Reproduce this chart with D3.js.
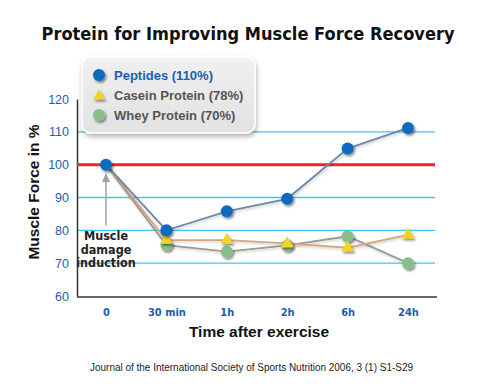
<!DOCTYPE html>
<html><head><meta charset="utf-8">
<script src="https://cdn.jsdelivr.net/npm/d3@7"></script>
<style>body{margin:0;background:#fff}</style>
</head><body>
<script>
const categories = ["0","30 min","1h","2h","6h","24h"];
const peptides = [100, 80, 85.8, 89.6, 104.9, 111.2];
const casein = [100, 77, 77, 76, 74.7, 78.6];
const whey = [100, 75.5, 73.5, 75.4, 78.2, 70];
const yTicks = [60,70,80,90,100,110,120];
const seriesNames = ["Peptides (110%)","Casein Protein (78%)","Whey Protein (70%)"];

const W=488,H=387;
const svg=d3.select("body").append("svg").attr("width",W).attr("height",H);
const defs=svg.append("defs");
const f=defs.append("filter").attr("id","sh").attr("x","-50%").attr("y","-50%").attr("width","200%").attr("height","200%");
f.append("feDropShadow").attr("dx",1.5).attr("dy",2).attr("stdDeviation",1.2).attr("flood-color","#000").attr("flood-opacity",0.45);
const f3=defs.append("filter").attr("id","lnsh").attr("x","-10%").attr("y","-10%").attr("width","120%").attr("height","120%");
f3.append("feDropShadow").attr("dx",1).attr("dy",1.5).attr("stdDeviation",0.8).attr("flood-color","#000").attr("flood-opacity",0.2);
const f2=defs.append("filter").attr("id","lsh").attr("x","-20%").attr("y","-20%").attr("width","140%").attr("height","150%");
f2.append("feDropShadow").attr("dx",1).attr("dy",3).attr("stdDeviation",2.5).attr("flood-color","#000").attr("flood-opacity",0.3);
const lg=defs.append("linearGradient").attr("id","lg").attr("x1",0).attr("y1",0).attr("x2",0).attr("y2",1);
lg.append("stop").attr("offset","0").attr("stop-color","#f0f0f0");
lg.append("stop").attr("offset","1").attr("stop-color","#e2e2e2");

const x=d3.scalePoint().domain(categories).range([106,408]);
const y=d3.scaleLinear().domain([60,120]).range([296,99]);
const x0=77,x1=437;

svg.append("text").attr("x",248).attr("y",40).attr("text-anchor","middle")
 .attr("font-family","DejaVu Sans").attr("font-weight","bold").attr("font-size",17)
 .attr("textLength",413).attr("lengthAdjust","spacingAndGlyphs").attr("fill","#111")
 .text("Protein for Improving Muscle Force Recovery");

// gridlines
svg.append("g").selectAll("line").data(yTicks.filter(t=>t>60&&t<120&&t!==100)).join("line")
 .attr("x1",x0).attr("x2",x1-2).attr("y1",d=>y(d)).attr("y2",d=>y(d))
 .attr("stroke","#3cc8ec").attr("stroke-width",1.3);

// y axis
const ya=svg.append("g").attr("transform",`translate(${x0},0)`).call(d3.axisLeft(y).tickValues(yTicks).tickSize(0).tickPadding(8));
ya.select(".domain").attr("stroke","#333").attr("stroke-width",1.5);
ya.selectAll("text").attr("font-family","Liberation Sans, Arial").attr("font-size",12.5).attr("fill","#1a5fae");
// x axis
const xa=svg.append("g").attr("transform",`translate(0,${y(60)+1})`).call(d3.axisBottom(x).tickSize(0).tickPadding(11));
xa.select(".domain").attr("d",`M${x0},0H${x1}`).attr("stroke","#333").attr("stroke-width",1.5);
xa.selectAll("text").attr("font-family","DejaVu Sans Condensed, DejaVu Sans").attr("font-weight","bold").attr("font-size",11).attr("fill","#1a5fae");

// red 100 line
svg.append("line").attr("x1",x0).attr("x2",x1-2).attr("y1",y(100)).attr("y2",y(100)).attr("stroke","#ee2233").attr("stroke-width",3);

svg.append("text").attr("transform",`translate(39,${192}) rotate(-90)`).attr("text-anchor","middle")
 .attr("font-family","Liberation Sans, Arial").attr("font-weight","bold").attr("font-size",15.5).attr("fill","#111").text("Muscle Force in %");
svg.append("text").attr("x",259).attr("y",337).attr("text-anchor","middle")
 .attr("font-family","Liberation Sans, Arial").attr("font-weight","bold").attr("font-size",15.5).attr("fill","#111").text("Time after exercise");
svg.append("text").attr("x",90).attr("y",371)
 .attr("font-family","Liberation Sans, Arial").attr("font-size",10.5).attr("fill","#222")
 .attr("textLength",323).attr("lengthAdjust","spacingAndGlyphs")
 .text("Journal of the International Society of Sports Nutrition 2006, 3 (1) S1-S29");

// annotation
const ann=svg.append("g");
ann.append("line").attr("x1",x("0")).attr("x2",x("0")).attr("y1",y(97)).attr("y2",y(81.5)).attr("stroke","#a8a0a8").attr("stroke-width",1.5);
ann.append("path").attr("d",`M${x("0")},${y(97.5)} l-4,9 l8,0 z`).attr("fill","#a8a0a8");
["Muscle","damage","induction"].forEach((t,i)=>{
 ann.append("text").attr("x",x("0")).attr("y",240+i*13.5).attr("text-anchor","middle")
  .attr("font-family","DejaVu Sans Condensed, DejaVu Sans").attr("font-weight","bold").attr("font-size",12.5)
  .attr("fill","#222").text(t);
});

const line=d3.line().x((d,i)=>x(categories[i])).y(d=>y(d));
const series=[
 {v:whey,lc:"#9a9a96",mc:"#88c08a",shape:"circle"},
 {v:casein,lc:"#d6a47e",mc:"#f4d424",shape:"tri"},
 {v:peptides,lc:"#6c88a8",mc:"#0a6ac0",shape:"circle"}
];
series.forEach(s=>{
 svg.append("path").attr("d",line(s.v)).attr("fill","none").attr("stroke",s.lc).attr("stroke-width",1.8).attr("filter","url(#lnsh)");
});
series.forEach(s=>{
 const g=svg.append("g").attr("filter","url(#sh)");
 s.v.forEach((v,i)=>{
  if(i===0 && s!==series[2]) return;
  if(s.shape==="circle") g.append("circle").attr("cx",x(categories[i])).attr("cy",y(v)).attr("r",6).attr("fill",s.mc);
  else g.append("path").attr("d",d3.symbol(d3.symbolTriangle,70)()).attr("transform",`translate(${x(categories[i])},${y(v)})`).attr("fill",s.mc);
 });
});

// legend
const L=svg.append("g");
L.append("rect").attr("x",82).attr("y",57).attr("width",173).attr("height",76).attr("rx",9)
 .attr("fill","url(#lg)").attr("stroke","#fff").attr("stroke-width",1.5).attr("filter","url(#lsh)");
const li=[{c:"#0a6ac0",s:"circle",tc:"#1a5fae"},{c:"#f4d424",s:"tri",tc:"#555"},{c:"#88c08a",s:"circle",tc:"#555"}];
li.forEach((d,i)=>{
 const cy=75+i*20;
 const g=L.append("g").attr("filter","url(#sh)");
 if(d.s==="circle") g.append("circle").attr("cx",99).attr("cy",cy).attr("r",6).attr("fill",d.c);
 else g.append("path").attr("d",d3.symbol(d3.symbolTriangle,60)()).attr("transform",`translate(99,${cy+1})`).attr("fill",d.c);
 L.append("text").attr("x",114).attr("y",cy+5).attr("font-family","Liberation Sans, Arial").attr("font-weight","bold")
  .attr("font-size",13).attr("fill",d.tc).text(seriesNames[i]);
});
</script>
</body></html>
